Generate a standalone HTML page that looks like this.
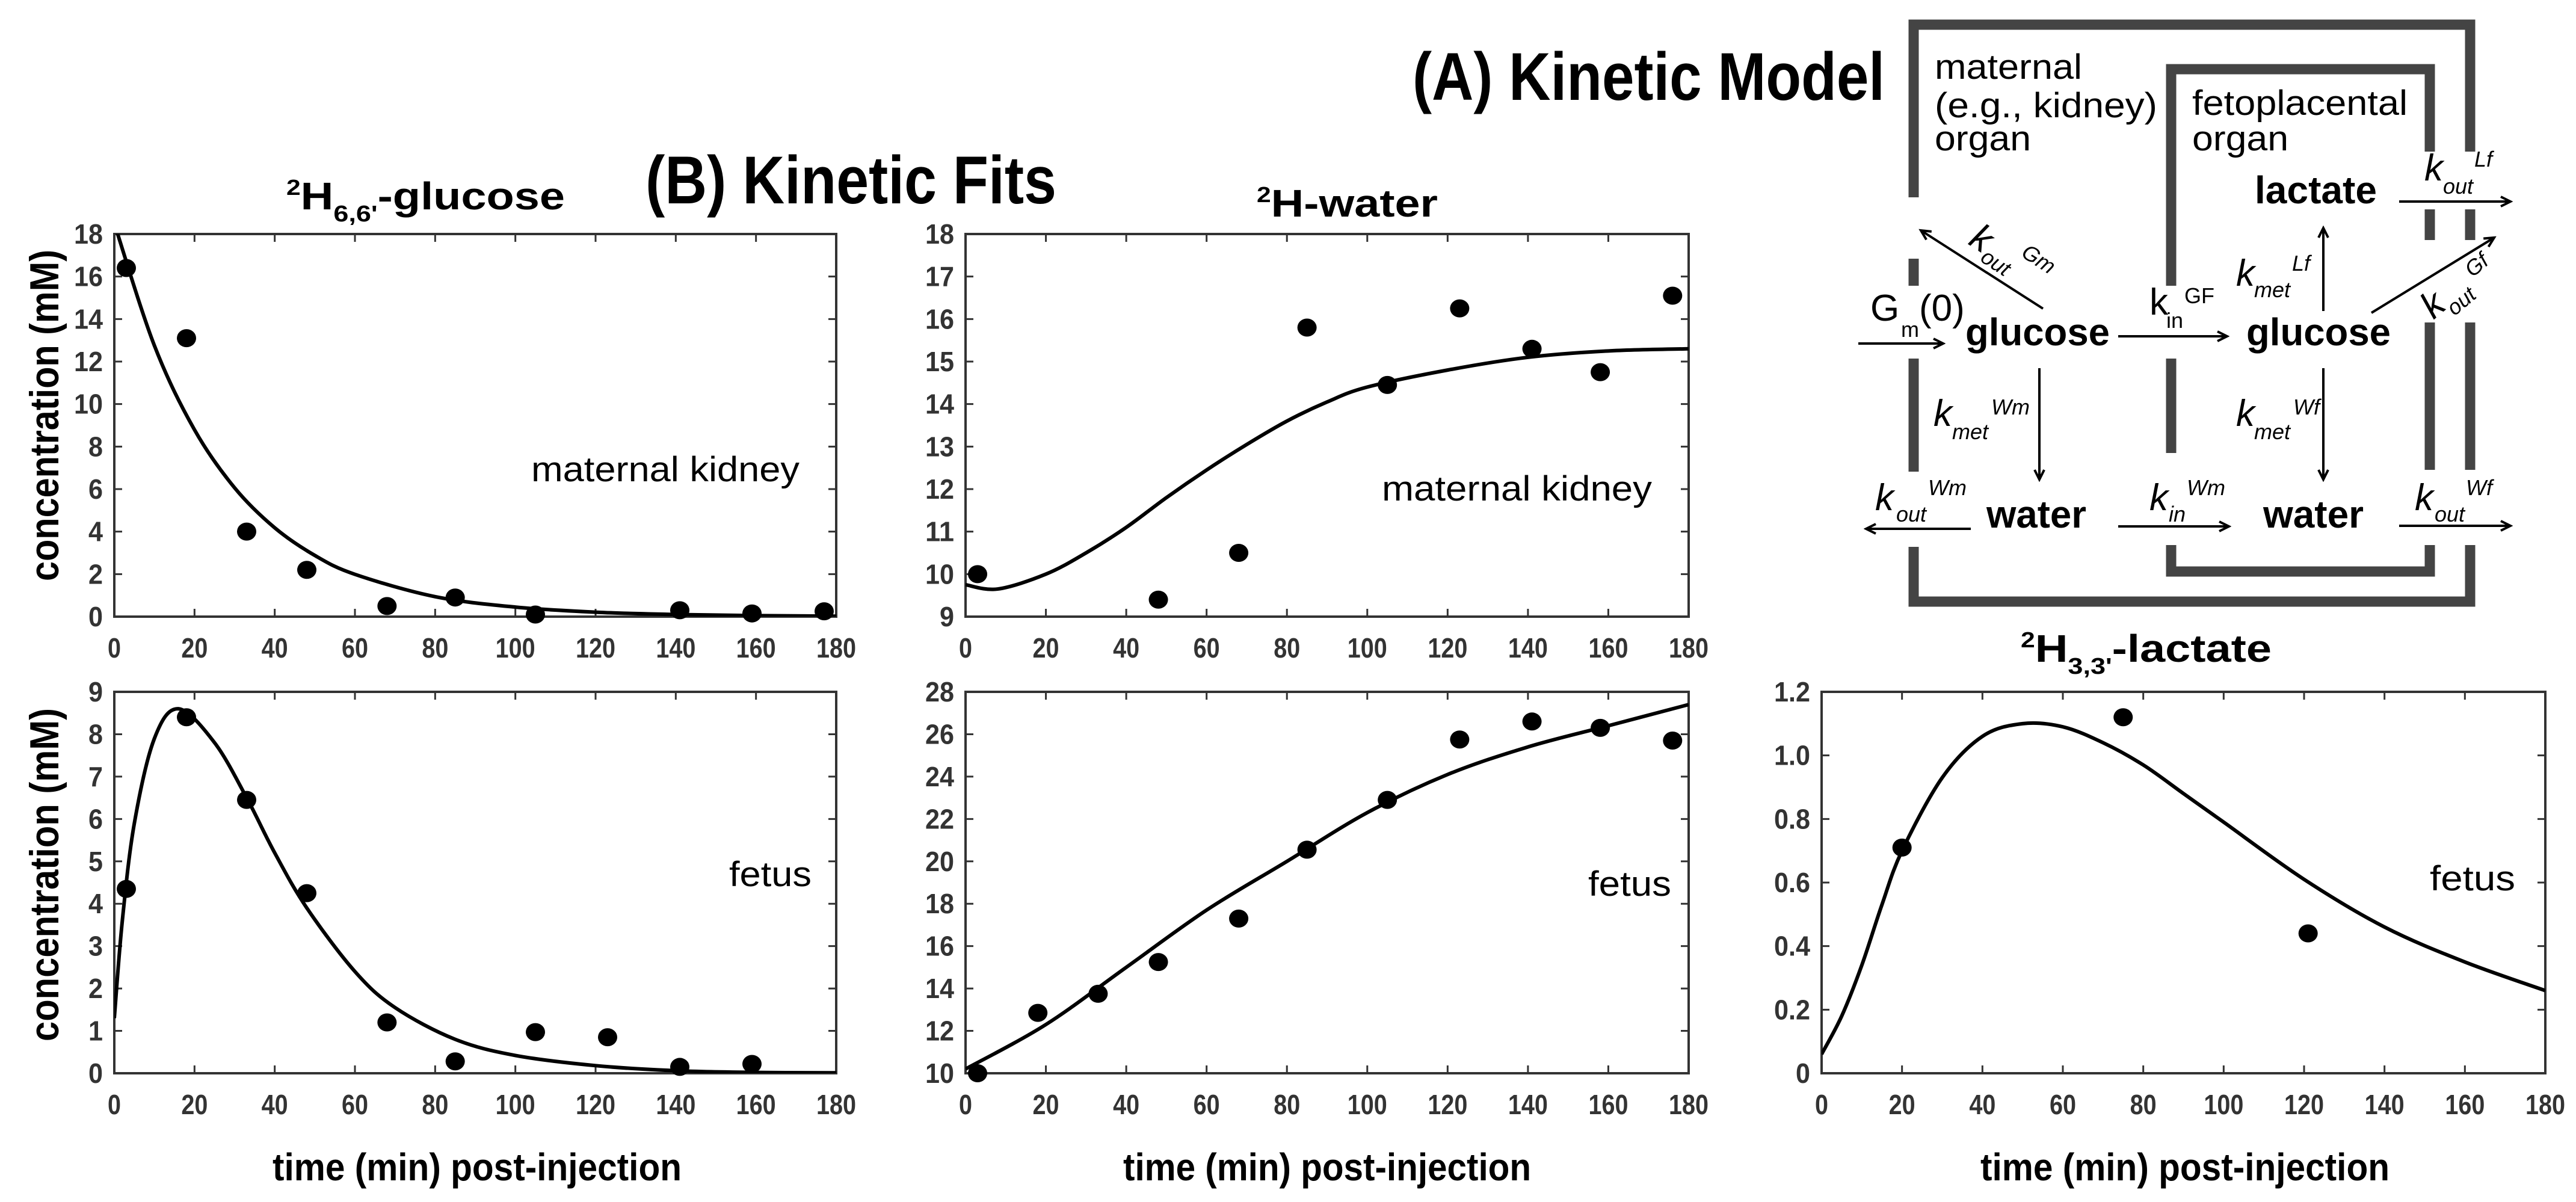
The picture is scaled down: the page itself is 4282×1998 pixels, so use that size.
<!DOCTYPE html>
<html><head><meta charset="utf-8"><style>
html,body{margin:0;padding:0;background:#fff;}
svg{display:block;font-family:"Liberation Sans",Arial,sans-serif;}
</style></head><body>
<svg id="fig" width="4282" height="1998" viewBox="0 0 4282 1998" xmlns="http://www.w3.org/2000/svg">
<defs>
<marker id="ah" markerUnits="userSpaceOnUse" markerWidth="24" markerHeight="24" refX="20" refY="10" orient="auto">
<path d="M4,2 L20,10 L4,18" fill="none" stroke="#000" stroke-width="4"/>
</marker>
</defs>
<rect width="4282" height="1998" fill="#fff"/>

<text x="2348" y="166" font-size="112" font-weight="bold" textLength="785" lengthAdjust="spacingAndGlyphs">(A) Kinetic Model</text>
<text x="1073" y="338" font-size="112" font-weight="bold" textLength="683" lengthAdjust="spacingAndGlyphs">(B) Kinetic Fits</text>

<g>
 <g stroke="#444" stroke-width="17" fill="none">
  <path d="M3181,328 L3181,41 L4106,41 L4106,252"/>
  <line x1="3181" y1="430" x2="3181" y2="475"/>
  <line x1="3181" y1="596" x2="3181" y2="784"/>
  <path d="M3181,909 L3181,1000 L4106,1000 L4106,906"/>
  <line x1="4106" y1="348" x2="4106" y2="399"/>
  <line x1="4106" y1="536" x2="4106" y2="781"/>
  <path d="M3609,475 L3609,115 L4039,115 L4039,252"/>
  <line x1="3609" y1="596" x2="3609" y2="753"/>
  <path d="M3609,906 L3609,950 L4039,950 L4039,906"/>
  <line x1="4039" y1="348" x2="4039" y2="399"/>
  <line x1="4039" y1="536" x2="4039" y2="781"/>
 </g>
 <g font-size="58" fill="#000">
  <text x="3216" y="131" textLength="245" lengthAdjust="spacingAndGlyphs">maternal</text>
  <text x="3216" y="195" textLength="370" lengthAdjust="spacingAndGlyphs">(e.g., kidney)</text>
  <text x="3216" y="250" textLength="160" lengthAdjust="spacingAndGlyphs">organ</text>
  <text x="3644" y="191" textLength="358" lengthAdjust="spacingAndGlyphs">fetoplacental</text>
  <text x="3644" y="250" textLength="160" lengthAdjust="spacingAndGlyphs">organ</text>
 </g>
 <g font-size="64" font-weight="bold">
  <text x="3748" y="338" textLength="203" lengthAdjust="spacingAndGlyphs">lactate</text>
  <text x="3267" y="574" textLength="240" lengthAdjust="spacingAndGlyphs">glucose</text>
  <text x="3734" y="574" textLength="240" lengthAdjust="spacingAndGlyphs">glucose</text>
  <text x="3302" y="877" textLength="166" lengthAdjust="spacingAndGlyphs">water</text>
  <text x="3762" y="877" textLength="167" lengthAdjust="spacingAndGlyphs">water</text>
 </g>
 <g stroke="#000" stroke-width="4" marker-end="url(#ah)">
  <line x1="3089" y1="571" x2="3230" y2="571"/>
  <line x1="3396" y1="513" x2="3193" y2="383"/>
  <line x1="3521" y1="559" x2="3702" y2="559"/>
  <line x1="3862" y1="517" x2="3862" y2="379"/>
  <line x1="3942" y1="520" x2="4146" y2="395"/>
  <line x1="3988" y1="335" x2="4173" y2="335"/>
  <line x1="3390" y1="612" x2="3390" y2="797"/>
  <line x1="3862" y1="612" x2="3862" y2="797"/>
  <line x1="3276" y1="879" x2="3102" y2="879"/>
  <line x1="3521" y1="875" x2="3705" y2="875"/>
  <line x1="3988" y1="874" x2="4173" y2="874"/>
 </g>
 <g fill="#000">
  <text x="3109" y="533" font-size="62">G</text><text x="3160" y="560" font-size="36">m</text><text x="3190" y="533" font-size="62">(0)</text>
  <text transform="translate(3270,405) rotate(33)" font-size="62" font-style="italic">k</text>
  <text transform="translate(3290,433) rotate(33)" font-size="36" font-style="italic">out</text>
  <text transform="translate(3358,425) rotate(33)" font-size="36" font-style="italic">Gm</text>
  <text x="3573" y="523" font-size="62">k</text><text x="3601" y="545" font-size="36">in</text><text x="3631" y="504" font-size="36">GF</text>
  <text x="3717" y="475" font-size="62" font-style="italic">k</text><text x="3747" y="494" font-size="36" font-style="italic">met</text><text x="3810" y="450" font-size="36" font-style="italic">Lf</text>
  <text transform="translate(4045,532) rotate(-40)" font-size="62" font-style="italic">k</text>
  <text transform="translate(4080,526) rotate(-40)" font-size="36" font-style="italic">out</text>
  <text transform="translate(4110,462) rotate(-40)" font-size="36" font-style="italic">Gf</text>
  <text x="4030" y="300" font-size="62" font-style="italic">k</text><text x="4061" y="322" font-size="36" font-style="italic">out</text><text x="4113" y="277" font-size="36" font-style="italic">Lf</text>
  <text x="3214" y="708" font-size="62" font-style="italic">k</text><text x="3245" y="730" font-size="36" font-style="italic">met</text><text x="3310" y="689" font-size="36" font-style="italic">Wm</text>
  <text x="3717" y="708" font-size="62" font-style="italic">k</text><text x="3747" y="730" font-size="36" font-style="italic">met</text><text x="3812" y="689" font-size="36" font-style="italic">Wf</text>
  <text x="3117" y="848" font-size="62" font-style="italic">k</text><text x="3152" y="867" font-size="36" font-style="italic">out</text><text x="3205" y="823" font-size="36" font-style="italic">Wm</text>
  <text x="3573" y="848" font-size="62" font-style="italic">k</text><text x="3605" y="867" font-size="36" font-style="italic">in</text><text x="3635" y="823" font-size="36" font-style="italic">Wm</text>
  <text x="4014" y="848" font-size="62" font-style="italic">k</text><text x="4047" y="867" font-size="36" font-style="italic">out</text><text x="4099" y="823" font-size="36" font-style="italic">Wf</text>
 </g>
</g>

<g font-weight="bold" fill="#000">
 <text x="476" y="348" textLength="463" lengthAdjust="spacingAndGlyphs"><tspan font-size="36" dy="-24">2</tspan><tspan font-size="64" dy="24">H</tspan><tspan font-size="38" dy="20">6,6'</tspan><tspan font-size="64" dy="-20">-glucose</tspan></text>
 <text x="2089" y="360" textLength="301" lengthAdjust="spacingAndGlyphs"><tspan font-size="36" dy="-24">2</tspan><tspan font-size="64" dy="24">H-water</tspan></text>
 <text x="3359" y="1100" textLength="417" lengthAdjust="spacingAndGlyphs"><tspan font-size="36" dy="-24">2</tspan><tspan font-size="64" dy="24">H</tspan><tspan font-size="38" dy="20">3,3'</tspan><tspan font-size="64" dy="-20">-lactate</tspan></text>
</g>
<g id="charts"></g>
</svg>
<script>
const xTicks=[0,20,40,60,80,100,120,140,160,180];

const gluMatT=[3,18,33,48,68,85,105,141,159,177];
const gluMatC=[16.4,13.1,4.0,2.2,0.5,0.9,0.1,0.3,0.15,0.25];
const gluMatFitT=[0,10,20,30,40,50,60,80,100,120,140,160,180];
const gluMatFitC=[18.5,12.75,8.79,6.06,4.18,2.88,1.99,0.94,0.45,0.21,0.1,0.05,0.02];
const gluMatTicks=[0,2,4,6,8,10,12,14,16,18];

const gluFetT=[3,18,33,48,68,85,105,123,141,159];
const gluFetC=[4.35,8.4,6.45,4.25,1.2,0.28,0.97,0.85,0.15,0.22];
const gluFetFitT=[0,2,5,10,16,25,33,40,48,60,70,85,100,120,140,160,180];
const gluFetFitC=[1.3,3.6,5.9,7.9,8.6,7.8,6.5,5.2,3.9,2.4,1.55,0.8,0.42,0.18,0.06,0.02,0.01];
const gluFetTicks=[0,1,2,3,4,5,6,7,8,9];

const watMatT=[3,48,68,85,105,123,141,158,176];
const watMatC=[10.0,9.4,10.5,15.8,14.45,16.25,15.3,14.75,16.55];
const watMatFitT=[0,8,20,30,40,50,60,70,80,90,100,120,140,160,180];
const watMatFitC=[9.75,9.65,10.0,10.5,11.1,11.8,12.45,13.05,13.6,14.05,14.4,14.8,15.1,15.25,15.3];
const watMatTicks=[9,10,11,12,13,14,15,16,17,18];

const watFetT=[3,18,33,48,68,85,105,123,141,158,176];
const watFetC=[10.0,12.85,13.75,15.25,17.3,20.55,22.9,25.75,26.6,26.3,25.7];
const watFetFitT=[0,20,40,60,80,100,120,140,160,180];
const watFetFitC=[10.2,12.3,15.0,17.7,20.0,22.3,24.1,25.4,26.4,27.4];
const watFetTicks=[10,12,14,16,18,20,22,24,26,28];

const lacT=[20,75,121];
const lacC=[0.71,1.12,0.44];
const lacFitT=[0,5,10,15,20,30,40,50,60,70,80,90,100,120,140,160,180];
const lacFitC=[0.06,0.18,0.34,0.53,0.7,0.93,1.06,1.1,1.09,1.04,0.97,0.88,0.79,0.61,0.46,0.35,0.26];
const lacTicks=[0,0.2,0.4,0.6,0.8,1.0,1.2];
const lacTickLabels=["0","0.2","0.4","0.6","0.8","1.0","1.2"];

const NS="http://www.w3.org/2000/svg";
const root=document.getElementById('charts');
function mk(tag,attrs,parent){const e=document.createElementNS(NS,tag);for(const k in attrs)e.setAttribute(k,attrs[k]);(parent||root).appendChild(e);return e;}

let clipN=0;
function panel(o){
  const g=mk('g',{});
  
  
  const ymin=o.yt[0], ymax=o.yt[o.yt.length-1];
  const sx=t=>o.L+(t-0)/(180-0)*(o.R-o.L);
  const sy=v=>o.B-(v-ymin)/(ymax-ymin)*(o.B-o.T);
  const cid='clip'+(clipN++);
  const cp=mk('clipPath',{id:cid},g);
  mk('rect',{x:o.L,y:o.T,width:o.R-o.L,height:o.B-o.T},cp);
  xTicks.forEach(t=>{
    const x=sx(t);
    const tk=mk('path',{d:`M${x},${o.B} v-13 M${x},${o.T} v13`,stroke:'#333','stroke-width':3},g);
    
    
    const lb=mk('text',{x:x,y:o.B+68,'text-anchor':'middle','font-size':46,'font-weight':'bold',fill:'#333',textLength:String(t).length*22,lengthAdjust:'spacingAndGlyphs'},g);
    lb.textContent=t;
    
    
  });
  o.yt.forEach((v,i)=>{
    const y=sy(v);
    const tk=mk('path',{d:`M${o.L},${y} h13 M${o.R},${y} h-13`,stroke:'#333','stroke-width':3},g);
    
    
    const s=o.yl?o.yl[i]:String(v);
    const lb=mk('text',{x:o.L-19,y:y+16,'text-anchor':'end','font-size':46,'font-weight':'bold',fill:'#333',textLength:s.length*24-(s.includes('.')?12:0),lengthAdjust:'spacingAndGlyphs'},g);
    lb.textContent=s;
    
    
  });
  const box=mk('rect',{x:o.L,y:o.T,width:o.R-o.L,height:o.B-o.T,fill:'none',stroke:'#333','stroke-width':4},g);
  
  
  const P=o.ft.map((t,i)=>[sx(t),sy(o.fc[i])]);
  let d=`M${P[0][0]},${P[0][1]}`;
  for(let i=0;i<P.length-1;i++){
    const p0=P[Math.max(0,i-1)],p1=P[i],p2=P[i+1],p3=P[Math.min(P.length-1,i+2)];
    const c1=[p1[0]+(p2[0]-p0[0])/6,p1[1]+(p2[1]-p0[1])/6];
    const c2=[p2[0]-(p3[0]-p1[0])/6,p2[1]-(p3[1]-p1[1])/6];
    d+=` C${c1[0]},${c1[1]} ${c2[0]},${c2[1]} ${p2[0]},${p2[1]}`;
  }
  const cur=mk('path',{d:d,fill:'none',stroke:'#000','stroke-width':6,'clip-path':`url(#${cid})`},g);
  
  
  o.pt.forEach((t,i)=>{
    const c=mk('ellipse',{cx:sx(t),cy:sy(o.pc[i]),rx:16,ry:15,fill:'#000'},g);
    
    
  });
  const an=mk('text',{x:o.ax,y:o.ay,'font-size':58,fill:'#000',textLength:o.aw,lengthAdjust:'spacingAndGlyphs'},g);
  an.textContent=o.ann;
  
  
}

panel({name:'glucose-maternal-chart',L:190,R:1390,T:389,B:1025,yt:gluMatTicks,pt:gluMatT,pc:gluMatC,ft:gluMatFitT,fc:gluMatFitC,ann:'maternal kidney',ax:883,ay:800,aw:446});
panel({name:'glucose-fetus-chart',L:190,R:1390,T:1150,B:1784,yt:gluFetTicks,pt:gluFetT,pc:gluFetC,ft:gluFetFitT,fc:gluFetFitC,ann:'fetus',ax:1212,ay:1473,aw:137});
panel({name:'water-maternal-chart',L:1605,R:2807,T:389,B:1025,yt:watMatTicks,pt:watMatT,pc:watMatC,ft:watMatFitT,fc:watMatFitC,ann:'maternal kidney',ax:2297,ay:832,aw:449});
panel({name:'water-fetus-chart',L:1605,R:2807,T:1150,B:1784,yt:watFetTicks,pt:watFetT,pc:watFetC,ft:watFetFitT,fc:watFetFitC,ann:'fetus',ax:2640,ay:1489,aw:138});
panel({name:'lactate-fetus-chart',L:3028,R:4231,T:1150,B:1784,yt:lacTicks,yl:lacTickLabels,pt:lacT,pc:lacC,ft:lacFitT,fc:lacFitC,ann:'fetus',ax:4039,ay:1480,aw:142});

[[793,680],[2206,678],[3632,680]].forEach(a=>{
  const t=mk('text',{x:a[0],y:1962,'text-anchor':'middle','font-size':64,'font-weight':'bold',textLength:a[1],lengthAdjust:'spacingAndGlyphs'});
  t.textContent='time (min) post-injection';
  
  
});
[[415,966],[1177,1731]].forEach(a=>{
  const c=(a[0]+a[1])/2;
  const t=mk('text',{x:0,y:0,transform:`translate(97,${c}) rotate(-90)`,'text-anchor':'middle','font-size':68,'font-weight':'bold',textLength:a[1]-a[0],lengthAdjust:'spacingAndGlyphs'});
  t.textContent='concentration (mM)';
  
  
});
</script>
</body></html>
